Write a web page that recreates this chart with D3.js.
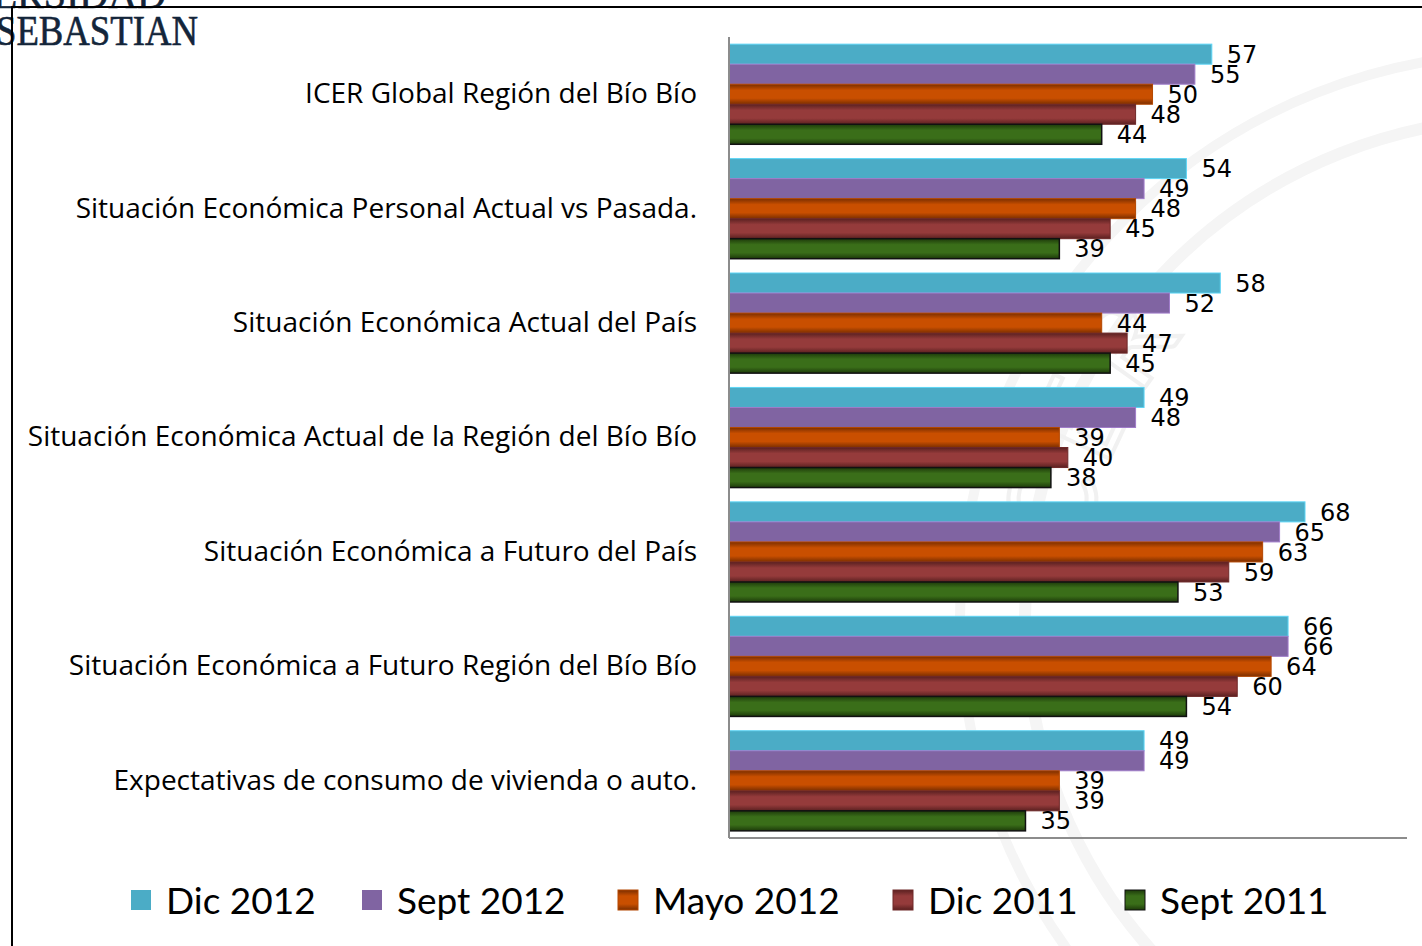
<!DOCTYPE html>
<html>
<head>
<meta charset="utf-8">
<script src="https://cdn.jsdelivr.net/npm/d3@7"></script>
<style>
  html, body { margin: 0; padding: 0; background: #fff; }
  svg { display: block; }
</style>
</head>
<body>
<svg id="chart"></svg>
<script>
// categories (top to bottom) and series
const categories = [
  "ICER Global Región del Bío Bío",
  "Situación Económica Personal Actual vs Pasada.",
  "Situación Económica Actual del País",
  "Situación Económica Actual de la Región del Bío Bío",
  "Situación Económica a Futuro del País",
  "Situación Económica a Futuro Región del Bío Bío",
  "Expectativas de consumo de vivienda o auto."
];
const seriesNames = ["Dic 2012", "Sept 2012", "Mayo 2012", "Dic 2011", "Sept 2011"];
const dic2012  = [57, 54, 58, 49, 68, 66, 49];
const sept2012 = [55, 49, 52, 48, 65, 66, 49];
const mayo2012 = [50, 48, 44, 39, 63, 64, 39];
const dic2011  = [48, 45, 47, 40, 59, 60, 39];
const sept2011 = [44, 39, 45, 38, 53, 54, 35];
const seriesValues = [dic2012, sept2012, mayo2012, dic2011, sept2011];

const width = 1422, height = 946;
const svg = d3.select("#chart").attr("width", width).attr("height", height);
const defs = svg.append("defs");

// watermark: faint rings on the right
const wm = svg.append("g").attr("fill", "none").attr("stroke", "#f5f5f5");
wm.append("circle").attr("cx", 1525).attr("cy", 618).attr("r", 500).attr("stroke-width", 12);
wm.append("circle").attr("cx", 1525).attr("cy", 618).attr("r", 565).attr("stroke-width", 10);
defs.append("path").attr("id", "wmArc").attr("d", "M1080,600 A450,450 0 0,1 1330,220");
svg.append("text")
  .attr("font-family", "Lato, sans-serif").attr("font-size", 120).attr("letter-spacing", 10)
  .attr("fill", "none").attr("stroke", "#f1f1f1").attr("stroke-width", 4)
  .append("textPath").attr("href", "#wmArc").text("ICER");

// logo fragment top-left
const logo = svg.append("g").attr("font-family", "'Liberation Serif', 'DejaVu Serif', serif")
  .attr("fill", "#13253a").attr("stroke", "#13253a").attr("stroke-width", 0.6);
logo.append("text").attr("x", 166).attr("y", 8).attr("font-size", 40)
  .attr("text-anchor", "end").text("UNIVERSIDAD");
logo.append("text").attr("x", -4).attr("y", 45).attr("font-size", 43)
  .attr("textLength", 202).attr("lengthAdjust", "spacingAndGlyphs").text("SEBASTIAN");

// frame
svg.append("path").attr("d", "M12,946 V7 H1422").attr("fill", "none")
  .attr("stroke", "#000").attr("stroke-width", 2);

const margin = {top: 37, left: 729, bottom: 838};
const x = d3.scaleLinear().domain([0, 68]).range([margin.left, 1305]);
const y = d3.scaleBand().domain(categories).range([margin.top, margin.bottom])
  .paddingInner(0.125).paddingOuter(0.0625);
const ys = d3.scaleBand().domain(seriesNames).range([0, y.bandwidth()]);

const flat = ["#4bacc6", "#8064a2"];
const shaded = [
  {edge: "#7a2e00", mid: "#c94f00", stroke: "#b34700"},
  {edge: "#5a2020", mid: "#953b3b", stroke: "#6e2828"},
  {edge: "#1d3a0a", mid: "#3a6e19", stroke: "#111"}
];
shaded.forEach((s, i) => {
  const g = defs.append("linearGradient").attr("id", "g" + i)
    .attr("x1", 0).attr("y1", 0).attr("x2", 0).attr("y2", 1);
  g.append("stop").attr("offset", "0%").attr("stop-color", s.edge);
  g.append("stop").attr("offset", "30%").attr("stop-color", s.mid);
  g.append("stop").attr("offset", "70%").attr("stop-color", s.mid);
  g.append("stop").attr("offset", "100%").attr("stop-color", s.edge);
});
const fillFor = i => i < 2 ? flat[i] : `url(#g${i - 2})`;
const strokeFor = i => i < 2 ? d3.color(flat[i]).brighter(0.6) : shaded[i - 2].stroke;

const rows = [];
categories.forEach((c, ci) => {
  seriesNames.forEach((s, si) => rows.push({cat: c, series: s, si, value: seriesValues[si][ci]}));
});

svg.append("g").selectAll("rect").data(rows).join("rect")
  .attr("x", x(0))
  .attr("y", d => y(d.cat) + ys(d.series))
  .attr("width", d => x(d.value) - x(0))
  .attr("height", ys.bandwidth())
  .attr("fill", d => fillFor(d.si))
  .attr("stroke", d => strokeFor(d.si))
  .attr("stroke-width", d => d.si === 4 ? 1.5 : 1);

svg.append("g").attr("font-family", "'DejaVu Sans', sans-serif").attr("font-size", 24)
  .selectAll("text").data(rows).join("text")
  .attr("x", d => x(d.value) + 15)
  .attr("y", d => y(d.cat) + ys(d.series) + ys.bandwidth() / 2)
  .attr("dy", "0.36em")
  .attr("fill", "#000")
  .text(d => d.value);

// axes
const axisY = svg.append("g").attr("transform", `translate(${margin.left},0)`)
  .call(d3.axisLeft(y).tickSize(0).tickPadding(32));
axisY.select(".domain").attr("stroke", "#8c8c8c").attr("stroke-width", 2).attr("d", `M0,${margin.top}V${margin.bottom}`);
axisY.selectAll("text").attr("font-family", "'Open Sans', sans-serif").attr("font-size", 28).attr("fill", "#000");

svg.append("g").attr("transform", `translate(0,${margin.bottom})`)
  .call(d3.axisBottom(x).tickValues([]).tickSizeOuter(0))
  .select(".domain").attr("stroke", "#8c8c8c").attr("stroke-width", 2)
  .attr("d", `M${margin.left},0H1407`);

// legend
const legendX = [131, 362, 618, 893, 1125];
const legend = svg.append("g").selectAll("g").data(seriesNames).join("g")
  .attr("transform", (d, i) => `translate(${legendX[i]},890)`);
legend.append("rect").attr("width", 20).attr("height", 20)
  .attr("fill", (d, i) => fillFor(i)).attr("stroke", (d, i) => i < 2 ? "none" : shaded[i - 2].stroke);
legend.append("text").attr("x", 35).attr("y", 11).attr("dy", "0.36em")
  .attr("font-family", "Lato, sans-serif").attr("font-size", 37).attr("fill", "#000")
  .text(d => d);
</script>
</body>
</html>
